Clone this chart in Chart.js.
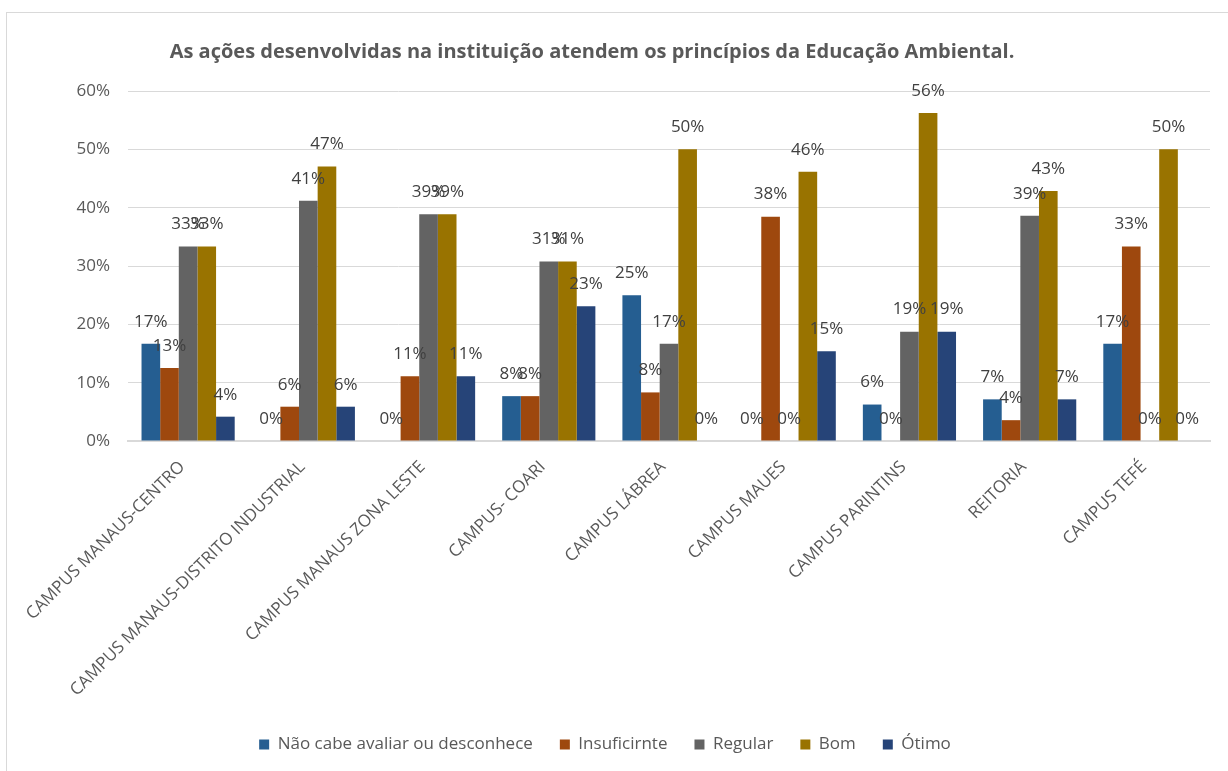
<!DOCTYPE html>
<html>
<head>
<meta charset="utf-8">
<script src="https://cdn.jsdelivr.net/npm/chart.js@4.4.1/dist/chart.umd.min.js"></script>
<style>
  html, body { margin: 0; padding: 0; background: #fff; overflow: hidden; }
  #frame { position: absolute; left: 6px; top: 12px; width: 1240px; height: 780px; border: 1px solid #d9d9d9; }
  #wrap { position: absolute; left: 0; top: 0; width: 1228px; height: 763px; }
</style>
</head>
<body>
<div id="frame"></div>
<div id="wrap"><canvas id="c" width="1228" height="763"></canvas></div>
<script>
const titleText = 'As ações desenvolvidas na instituição atendem os princípios da Educação Ambiental.';
const categories = ['CAMPUS MANAUS-CENTRO', 'CAMPUS MANAUS-DISTRITO INDUSTRIAL', 'CAMPUS MANAUS ZONA LESTE', 'CAMPUS- COARI', 'CAMPUS LÁBREA', 'CAMPUS MAUES', 'CAMPUS PARINTINS', 'REITORIA', 'CAMPUS TEFÉ'];
const seriesNames = ['Não cabe avaliar ou desconhece', 'Insuficirnte', 'Regular', 'Bom', 'Ótimo'];
const naoCabe     = [16.67, 0,     0,     7.69,  25,    0,     6.25,  7.14,  16.67];
const insuficiente= [12.5,  5.88,  11.11, 7.69,  8.33,  38.46, 0,     3.57,  33.33];
const regular     = [33.33, 41.18, 38.89, 30.77, 16.67, 0,     18.75, 38.6,  0];
const bom         = [33.33, 47.06, 38.89, 30.77, 50,    46.15, 56.25, 42.86, 50];
const otimo       = [4.17,  5.88,  11.11, 23.08, 0,     15.38, 18.75, 7.14,  0];
const yTicks = [0, 10, 20, 30, 40, 50, 60];
const colors = ['#255E91', '#9E480E', '#636363', '#997300', '#264478'];

const FONT = '"Open Sans"';
const seriesData = [naoCabe, insuficiente, regular, bom, otimo];

const labelPlugin = {
  id: 'valueLabels',
  afterDatasetsDraw(chart) {
    const ctx = chart.ctx;
    ctx.save();
    ctx.font = '17px ' + FONT;
    ctx.fillStyle = '#404040';
    ctx.textAlign = 'center';
    ctx.textBaseline = 'middle';
    chart.data.datasets.forEach((ds, i) => {
      const meta = chart.getDatasetMeta(i);
      meta.data.forEach((el, j) => {
        const v = ds.data[j];
        ctx.fillText(Math.round(v) + '%', el.x, el.y - 22);
      });
    });
    ctx.font = 'bold 20px ' + FONT;
    ctx.fillStyle = '#595959';
    ctx.fillText(titleText, 592, 52);
    ctx.restore();
  }
};

new Chart(document.getElementById('c'), {
  type: 'bar',
  data: {
    labels: categories,
    datasets: seriesNames.map((n, i) => ({
      label: n,
      data: seriesData[i],
      backgroundColor: colors[i],
      borderWidth: 0,
      barPercentage: 1,
      categoryPercentage: 0.775
    }))
  },
  options: {
    responsive: false,
    animation: false,
    layout: { padding: { top: 91, right: 18, left: 0, bottom: 0 } },
    plugins: {
      title: { display: false },
      tooltip: { enabled: false },
      legend: {
        position: 'bottom',
        labels: {
          boxWidth: 10, boxHeight: 10, padding: 27,
          color: '#595959',
          font: { family: FONT, size: 17 }
        }
      }
    },
    scales: {
      x: {
        grid: { display: false, drawTicks: false },
        border: { display: true, color: '#d9d9d9', width: 2 },
        ticks: {
          minRotation: 45, maxRotation: 45, autoSkip: false,
          color: '#595959', padding: 16, labelOffset: -6,
          font: { family: FONT, size: 17 }
        },
        afterFit(scale) { scale.height = 268; }
      },
      y: {
        min: 0, max: 60,
        afterBuildTicks(scale) { scale.ticks = yTicks.map(v => ({ value: v })); },
        grid: { color: '#d9d9d9', lineWidth: 1, drawTicks: false },
        border: { display: false },
        ticks: {
          color: '#595959', padding: 18,
          font: { family: FONT, size: 17 },
          callback: v => v + '%'
        },
        afterFit(scale) { scale.width = 128; }
      }
    }
  },
  plugins: [labelPlugin]
});
</script>
</body>
</html>
